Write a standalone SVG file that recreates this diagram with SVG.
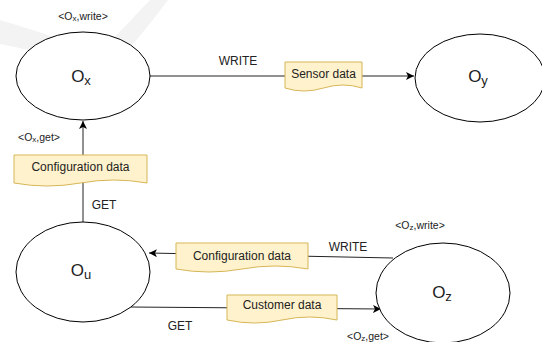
<svg xmlns="http://www.w3.org/2000/svg" width="542" height="342" viewBox="0 0 542 342">
<style>
text{font-family:"Liberation Sans",Arial,sans-serif;fill:#222}
.node{fill:#fff;stroke:#000;stroke-width:1}
.edge{stroke:#222;stroke-width:1;fill:none}
.doc{fill:#fff2cc;stroke:#d6b656;stroke-width:1}
.lbl{font-size:17px}
.sub{font-size:13px}
.dl{font-size:12px}
.el{font-size:12px}
.tag{font-size:10.5px}
.tsub{font-size:8px}
</style>
<defs>
<marker id="arr" markerWidth="10" markerHeight="10" refX="8" refY="4" orient="auto" markerUnits="userSpaceOnUse">
<path d="M0,0 L8,4 L0,8 L2,4 Z" fill="#000"/>
</marker>
</defs>
<rect width="542" height="342" fill="#fff"/>
<path d="M0,20 C40,32 75,44 100,52 C118,34 135,16 150,0 L168,0 C150,24 132,46 112,68 C75,60 40,52 0,44 Z" fill="#f3f3f3"/>
<g id="connectors">
<line class="edge" x1="150" y1="76" x2="414" y2="76" marker-end="url(#arr)"/>
<line class="edge" x1="83" y1="222" x2="83" y2="121" marker-end="url(#arr)"/>
<line class="edge" x1="393" y1="258" x2="149" y2="253" marker-end="url(#arr)"/>
<path class="edge" d="M130,307 L381,309" marker-end="url(#arr)"/>
<text class="el" x="238" y="65" text-anchor="middle">WRITE</text>
<text class="el" x="104" y="209" text-anchor="middle">GET</text>
<text class="el" x="348" y="251" text-anchor="middle">WRITE</text>
<text class="el" x="180" y="330" text-anchor="middle">GET</text>
</g>
<g id="doc-sensor">
<path class="doc" d="M285,62 H362 V88 Q343,82 323.5,88 Q304,94 285,88 Z"/>
<text class="dl" x="323.5" y="78" text-anchor="middle">Sensor data</text>
</g>
<g id="doc-config1">
<path class="doc" d="M14,155 H147 V183 Q114,177 80.5,183 Q47,189 14,183 Z"/>
<text class="dl" x="80.5" y="171" text-anchor="middle">Configuration data</text>
</g>
<g id="doc-config2">
<path class="doc" d="M176,243 H308 V269 Q275,263 242,269 Q209,275 176,269 Z"/>
<text class="dl" x="242" y="260" text-anchor="middle">Configuration data</text>
</g>
<g id="doc-customer">
<path class="doc" d="M227,295 H337 V320 Q309.5,314 282,320 Q254.5,326 227,320 Z"/>
<text class="dl" x="282" y="309" text-anchor="middle">Customer data</text>
</g>
<g id="node-ox">
<ellipse class="node" cx="83" cy="76" rx="67" ry="44"/>
<text class="lbl" x="81" y="82" text-anchor="middle">O<tspan class="sub" dy="3">x</tspan></text>
<text class="tag" x="83" y="20" text-anchor="middle">&lt;O<tspan class="tsub" dy="1">x</tspan><tspan dy="-1">,write&gt;</tspan></text>
<text class="tag" x="18" y="141">&lt;O<tspan class="tsub" dy="1">x</tspan><tspan dy="-1">,get&gt;</tspan></text>
</g>
<g id="node-oy">
<ellipse class="node" cx="480" cy="78" rx="65" ry="44"/>
<text class="lbl" x="478" y="82" text-anchor="middle">O<tspan class="sub" dy="3">y</tspan></text>
</g>
<g id="node-ou">
<ellipse class="node" cx="83" cy="272" rx="67" ry="50"/>
<text class="lbl" x="81" y="276" text-anchor="middle">O<tspan class="sub" dy="3">u</tspan></text>
</g>
<g id="node-oz">
<ellipse class="node" cx="443" cy="293" rx="67" ry="50"/>
<text class="lbl" x="442" y="298" text-anchor="middle">O<tspan class="sub" dy="3">z</tspan></text>
<text class="tag" x="420" y="229" text-anchor="middle">&lt;O<tspan class="tsub" dy="1">z</tspan><tspan dy="-1">,write&gt;</tspan></text>
<text class="tag" x="368" y="340" text-anchor="middle">&lt;O<tspan class="tsub" dy="1">z</tspan><tspan dy="-1">,get&gt;</tspan></text>
</g>
</svg>
